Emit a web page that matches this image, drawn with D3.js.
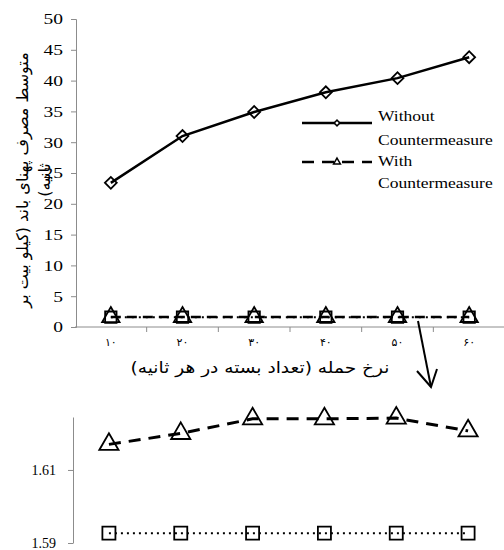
<!DOCTYPE html>
<html>
<head>
<meta charset="utf-8">
<script src="https://cdn.jsdelivr.net/npm/d3@7"></script>
<style>
  body { margin: 0; background: #fff; }
  svg { display: block; }
  text { font-family: "Liberation Serif", "DejaVu Serif", serif; fill: #000; }
  .fa { font-family: "DejaVu Sans", "Noto Sans", sans-serif; }
</style>
</head>
<body>
<svg id="chart" width="504" height="550"></svg>
<script>
// attack rate categories (Persian digits)
const categories = ['۱۰', '۲۰', '۳۰', '۴۰', '۵۰', '۶۰'];
const withoutCM = [23.4, 31.0, 34.9, 38.1, 40.4, 43.8];
const withCM = [1.617, 1.620, 1.624, 1.624, 1.6242, 1.6207];
const baseline = [1.5927, 1.5927, 1.5927, 1.5927, 1.5927, 1.5927];
const yTopTicks = d3.range(0, 51, 5);
const yBotTicks = [1.59, 1.61];
const legendLabels = [['Without', 'Countermeasure'], ['With', 'Countermeasure']];

const svg = d3.select('#chart');
const axisColor = '#8c8c8c';

// the source picture is a bit wider than tall, widen the text to match
function stretch(sel, k) {
    sel.each(function() {
        const w = this.getComputedTextLength();
        d3.select(this).attr('textLength', w * k).attr('lengthAdjust', 'spacingAndGlyphs');
    });
}

// ---- top panel ----
const xTop = d3.scaleBand().domain(categories).range([75, 505]);
const yTop = d3.scaleLinear().domain([0, 50]).range([327, 19]);

const gy = svg.append('g')
    .attr('transform', `translate(${xTop.range()[0] + 1},0)`)
    .call(d3.axisLeft(yTop).tickValues(yTopTicks).tickSize(5).tickPadding(8));
gy.attr('font-family', null);
gy.select('.domain').attr('stroke', axisColor);
gy.selectAll('.tick line').attr('stroke', axisColor);
gy.selectAll('.tick text').style('font-size', '15px').call(stretch, 1.3);

// x axis line + boundary ticks
svg.append('line')
    .attr('x1', xTop.range()[0]).attr('x2', xTop.range()[1])
    .attr('y1', yTop(0)).attr('y2', yTop(0))
    .attr('stroke', axisColor);
svg.append('g').selectAll('line')
    .data(categories)
    .enter()
    .append('line')
        .attr('x1', d => xTop(d) + xTop.bandwidth())
        .attr('x2', d => xTop(d) + xTop.bandwidth())
        .attr('y1', yTop(0))
        .attr('y2', yTop(0) + 5)
        .attr('stroke', axisColor);
svg.append('g').selectAll('text')
    .data(categories)
    .enter()
    .append('text')
        .attr('class', 'fa')
        .attr('x', d => xTop(d) + xTop.bandwidth() / 2)
        .attr('y', 346)
        .attr('text-anchor', 'middle')
        .style('font-size', '11px')
        .text(d => d);

svg.append('text')
    .attr('class', 'fa')
    .attr('x', 260)
    .attr('y', 373)
    .attr('text-anchor', 'middle')
    .attr('direction', 'rtl')
    .style('font-size', '16px')
    .text('نرخ حمله (تعداد بسته در هر ثانیه)')
    .call(stretch, 1.16);

// y title, wrapped on two lines
const yTitle = svg.append('text')
    .attr('class', 'fa')
    .attr('transform', 'translate(28,180) rotate(-90)')
    .attr('text-anchor', 'middle')
    .attr('direction', 'rtl')
    .style('font-size', '16px');
yTitle.append('tspan').attr('x', 0).attr('y', 0).text('متوسط مصرف پهنای باند (کیلو بیت بر');
yTitle.append('tspan').attr('x', 0).attr('y', 22).text('ثانیه)');

const cx = (x, i) => x(categories[i]) + x.bandwidth() / 2;

function drawSeries(g, x, y, vals, dash, width, symbol, size, rotate) {
    g.append('path')
        .datum(vals)
        .attr('fill', 'none')
        .attr('stroke', '#000')
        .attr('stroke-width', width)
        .attr('stroke-dasharray', dash)
        .attr('d', d3.line().x((d, i) => cx(x, i)).y(d => y(d)));
    g.append('g').selectAll('path')
        .data(vals)
        .enter()
        .append('path')
            .attr('transform', (d, i) => `translate(${cx(x, i)},${y(d)}) rotate(${rotate})`)
            .attr('d', d3.symbol().type(symbol).size(size))
            .attr('fill', 'none')
            .attr('stroke', '#000')
            .attr('stroke-width', 1.8);
}

const gTop = svg.append('g');
drawSeries(gTop, xTop, yTop, withCM, '10,6', 2.5, d3.symbolTriangle, 130, 0);
drawSeries(gTop, xTop, yTop, baseline, '2,5', 2, d3.symbolSquare, 130, 0);
drawSeries(gTop, xTop, yTop, withoutCM, null, 2.5, d3.symbolSquare, 70, 45);

// legend
const legend = svg.append('g');
const legY = [123, 162];
legend.append('line')
    .attr('x1', 302).attr('x2', 372).attr('y1', legY[0]).attr('y2', legY[0])
    .attr('stroke', '#000').attr('stroke-width', 2.5);
legend.append('path')
    .attr('transform', `translate(337,${legY[0]}) rotate(45)`)
    .attr('d', d3.symbol().type(d3.symbolSquare).size(16))
    .attr('fill', '#fff').attr('stroke', '#000').attr('stroke-width', 1.5);
legend.append('line')
    .attr('x1', 302).attr('x2', 372).attr('y1', legY[1]).attr('y2', legY[1])
    .attr('stroke', '#000').attr('stroke-width', 2.5).attr('stroke-dasharray', '12,8');
legend.append('path')
    .attr('transform', `translate(337,${legY[1]})`)
    .attr('d', d3.symbol().type(d3.symbolTriangle).size(20))
    .attr('fill', 'none').attr('stroke', '#000').attr('stroke-width', 1.5);
const legText = [[121, 145], [166, 188]];
legendLabels.forEach((lines, k) => {
    lines.forEach((t, j) => {
        legend.append('text')
            .attr('x', 378)
            .attr('y', legText[k][j])
            .style('font-size', '14px')
            .text(t)
            .call(stretch, 1.25);
    });
});

// arrow to the zoomed panel
const arrow = svg.append('g').attr('stroke', '#000').attr('stroke-width', 2).attr('fill', 'none');
arrow.append('line').attr('x1', 418).attr('y1', 321).attr('x2', 431).attr('y2', 387);
arrow.append('path').attr('d', 'M417,371 L431,387 L437,369');

// ---- bottom (zoomed) panel ----
const xBot = d3.scaleBand().domain(categories).range([73, 504]);
const yBot = d3.scaleLinear().domain([1.59, 1.6245]).range([543, 417]);

const gb = svg.append('g')
    .attr('transform', `translate(${xBot.range()[0]},0)`)
    .call(d3.axisLeft(yBot).tickValues(yBotTicks).tickFormat(d3.format('.2f'))
        .tickSize(5).tickPadding(12).tickSizeOuter(0));
gb.attr('font-family', null);
gb.select('.domain').attr('stroke', axisColor);
gb.selectAll('.tick line').attr('stroke', axisColor);
gb.selectAll('.tick text').style('font-size', '14px');

const gBot = svg.append('g');
drawSeries(gBot, xBot, yBot, baseline, '2,4', 2, d3.symbolSquare, 170, 0);
drawSeries(gBot, xBot, yBot, withCM, '12,8', 3, d3.symbolTriangle, 160, 0);
</script>
</body>
</html>
